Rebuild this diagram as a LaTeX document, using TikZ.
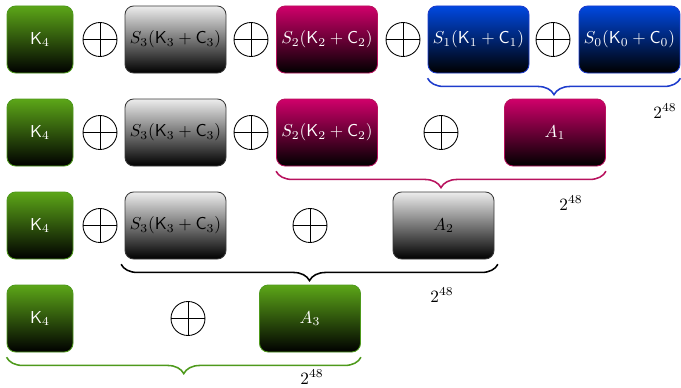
\documentclass[tikz,border=0pt]{standalone}
\usetikzlibrary{decorations.pathreplacing}
\definecolor{gtop}{HTML}{5CA618}
\definecolor{gbrd}{HTML}{4E9A1C}
\definecolor{mtop}{HTML}{D0006A}
\definecolor{mbrd}{HTML}{B8125E}
\definecolor{btop}{HTML}{0048E0}
\definecolor{bbrd}{HTML}{1E3CCC}
\definecolor{ktop}{HTML}{EDEDED}
\definecolor{kbrd}{HTML}{3A3A3A}
\tikzset{
  box/.style={rounded corners=5pt, minimum height={67*0.58pt}, minimum width={101*0.58pt}, inner sep=0pt, line width=0.5pt, shading=axis},
  kbox/.style={box, minimum width={66*0.58pt}},
  greenb/.style={draw=gbrd, top color=gtop, bottom color=black, text=white},
  magb/.style={draw=mbrd, top color=mtop, bottom color=black, text=white},
  blueb/.style={draw=bbrd, top color=btop, bottom color=black, text=white},
  grayb/.style={draw=kbrd, top color=ktop, bottom color=black, text=black},
  xo/.style={circle, draw, line width=0.5pt, minimum size={34*0.58pt}, inner sep=0pt,
    path picture={\draw[line width=0.5pt] (path picture bounding box.north) -- (path picture bounding box.south) (path picture bounding box.west) -- (path picture bounding box.east);}},
  brc/.style={decorate, decoration={brace, mirror, amplitude=9.5pt, raise=2.8pt}, line width=0.9pt},
  lab/.style={inner sep=0pt}
}
\begin{document}
\begin{tikzpicture}[x=0.58pt,y=-0.58pt]
\useasboundingbox (0,0) rectangle (681,388);
% row 1
\node[kbox,greenb] (k1) at (40,39.5) {$\mathsf{K}_4$};
\node[xo] (x11) at (100,39.5) {};
\node[box,grayb] (s31) at (175.5,39.5) {$S_3(\mathsf{K}_3+\mathsf{C}_3)$};
\node[xo] (x12) at (251,39.5) {};
\node[box,magb] (s21) at (327,39.5) {$S_2(\mathsf{K}_2+\mathsf{C}_2)$};
\node[xo] (x13) at (403,39.5) {};
\node[box,blueb] (s11) at (478.5,39.5) {$S_1(\mathsf{K}_1+\mathsf{C}_1)$};
\node[xo] (x14) at (553,39.5) {};
\node[box,blueb] (s01) at (629.5,39.5) {$S_0(\mathsf{K}_0+\mathsf{C}_0)$};
\draw[brc, draw=bbrd] (s11.south west) -- (s01.south east);
\node[lab] (l1) at (665,111) {$2^{48}$};
% row 2
\node[kbox,greenb] (k2) at (40,132.5) {$\mathsf{K}_4$};
\node[xo] (x21) at (100,132.5) {};
\node[box,grayb] (s32) at (175.5,132.5) {$S_3(\mathsf{K}_3+\mathsf{C}_3)$};
\node[xo] (x22) at (251,132.5) {};
\node[box,magb] (s22) at (327,132.5) {$S_2(\mathsf{K}_2+\mathsf{C}_2)$};
\node[xo] (x23) at (441,132.5) {};
\node[box,magb] (a1) at (555,132.5) {$A_1$};
\draw[brc, draw=mbrd] (s22.south west) -- (a1.south east);
\node[lab] (l2) at (571,203) {$2^{48}$};
% row 3
\node[kbox,greenb] (k3) at (40,225.5) {$\mathsf{K}_4$};
\node[xo] (x31) at (100,225.5) {};
\node[box,grayb] (s33) at (175.5,225.5) {$S_3(\mathsf{K}_3+\mathsf{C}_3)$};
\node[xo] (x32) at (310,225.5) {};
\node[box,grayb] (a2) at (443.5,225.5) {$A_2$};
\draw[brc, draw=black] ([xshift=-2pt]s33.south west) -- ([xshift=2pt]a2.south east);
\node[lab] (l3) at (442,295) {$2^{48}$};
% row 4
\node[kbox,greenb] (k4) at (40,318.5) {$\mathsf{K}_4$};
\node[xo] (x41) at (188,318.5) {};
\node[box,greenb] (a3) at (310,318.5) {$A_3$};
\draw[brc, draw=gbrd] (k4.south west) -- (a3.south east);
\node[lab] (l4) at (312,377) {$2^{48}$};
\end{tikzpicture}
\end{document}
